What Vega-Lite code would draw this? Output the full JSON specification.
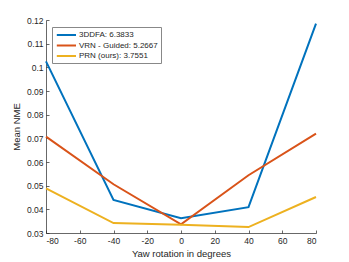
{
  "$schema": "https://vega.github.io/schema/vega-lite/v6.json",
  "autosize": {"type": "none"},
  "width": 270,
  "height": 213,
  "padding": {"left": 46, "top": 20, "right": 33, "bottom": 29},
  "background": "white",
  "config": {
    "font": "Liberation Sans",
    "view": {"stroke": null},
    "axis": {
      "grid": false,
      "domainColor": "#262626",
      "tickColor": "#262626",
      "labelColor": "#262626",
      "titleColor": "#262626",
      "labelFontSize": 8.5,
      "titleFontSize": 9.5,
      "titleFontWeight": "normal",
      "tickSize": -3,
      "labelPadding": 6,
      "domainWidth": 0.7,
      "tickWidth": 0.7
    }
  },
  "data": {
    "values": [
      {"yaw": -80, "nme": 0.1025, "method": "3DDFA: 6.3833"},
      {"yaw": -40, "nme": 0.044, "method": "3DDFA: 6.3833"},
      {"yaw": 0, "nme": 0.0362, "method": "3DDFA: 6.3833"},
      {"yaw": 40, "nme": 0.0409, "method": "3DDFA: 6.3833"},
      {"yaw": 80, "nme": 0.1185, "method": "3DDFA: 6.3833"},
      {"yaw": -80, "nme": 0.0707, "method": "VRN - Guided: 5.2667"},
      {"yaw": -40, "nme": 0.0506, "method": "VRN - Guided: 5.2667"},
      {"yaw": 0, "nme": 0.0337, "method": "VRN - Guided: 5.2667"},
      {"yaw": 40, "nme": 0.0544, "method": "VRN - Guided: 5.2667"},
      {"yaw": 80, "nme": 0.072, "method": "VRN - Guided: 5.2667"},
      {"yaw": -80, "nme": 0.0489, "method": "PRN (ours): 3.7551"},
      {"yaw": -40, "nme": 0.0342, "method": "PRN (ours): 3.7551"},
      {"yaw": 0, "nme": 0.0335, "method": "PRN (ours): 3.7551"},
      {"yaw": 40, "nme": 0.0325, "method": "PRN (ours): 3.7551"},
      {"yaw": 80, "nme": 0.0452, "method": "PRN (ours): 3.7551"}
    ]
  },
  "mark": {"type": "line", "strokeWidth": 2},
  "encoding": {
    "x": {
      "field": "yaw", "type": "quantitative",
      "scale": {"domain": [-80, 80], "nice": false, "zero": false},
      "axis": {"values": [-80, -60, -40, -20, 0, 20, 40, 60, 80], "labelExpr": "replace(datum.label, '−', '-')", "title": "Yaw rotation in degrees", "titlePadding": 4}
    },
    "y": {
      "field": "nme", "type": "quantitative",
      "scale": {"domain": [0.03, 0.12], "nice": false, "zero": false},
      "axis": {"values": [0.03, 0.04, 0.05, 0.06, 0.07, 0.08, 0.09, 0.1, 0.11, 0.12], "format": ".2~f", "title": "Mean NME", "titlePadding": 5}
    },
    "color": {
      "field": "method", "type": "nominal",
      "scale": {
        "domain": ["3DDFA: 6.3833", "VRN - Guided: 5.2667", "PRN (ours): 3.7551"],
        "range": ["#0072BD", "#D95319", "#EDB120"]
      },
      "legend": {
        "title": null,
        "orient": "none",
        "legendX": 6,
        "legendY": 7,
        "symbolType": "M-0.8,0H4",
        "symbolStrokeWidth": 2,
        "symbolSize": 64,
        "labelFontSize": 8,
        "labelColor": "#262626",
        "rowPadding": 1.5,
        "padding": 3,
        "strokeColor": "#888888",
        "fillColor": "white",
        "labelOffset": 14,
        "labelLimit": 200
      }
    }
  }
}
